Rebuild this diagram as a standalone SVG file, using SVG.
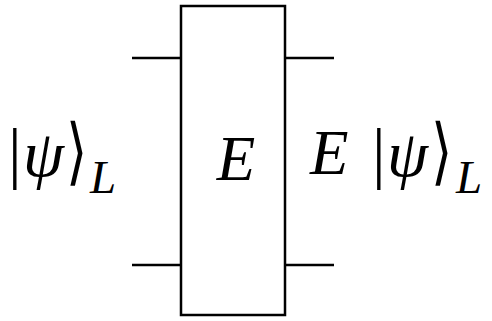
<svg xmlns="http://www.w3.org/2000/svg" width="492" height="321" viewBox="0 0 492 321">
<style>
.w{stroke:#000;stroke-width:2.5;fill:none}
</style>
<g id="wires">
<line class="w" x1="132" y1="58" x2="181" y2="58"/>
<line class="w" x1="132" y1="265" x2="181" y2="265"/>
<line class="w" x1="285" y1="58" x2="334" y2="58"/>
<line class="w" x1="285" y1="265" x2="334" y2="265"/>
</g>
<g id="gateE">
<rect class="w" x="181" y="6" width="104" height="309"/>
<text x="236" y="180" text-anchor="middle" font-family="Liberation Serif, serif" font-style="italic" font-size="63">E</text>
</g>
<g id="input" font-family="Liberation Serif, serif">
<text x="8" y="176" font-size="68">|</text>
<text x="23" y="176" font-size="66" font-style="italic">ψ</text>
<text transform="translate(66,176) scale(0.75,1)" font-family="DejaVu Serif, serif" font-size="73">⟩</text>
<text x="90" y="193" font-size="47" font-style="italic">L</text>
</g>
<g id="output" font-family="Liberation Serif, serif">
<text x="310" y="174" font-size="63" font-style="italic">E</text>
<text x="372" y="176" font-size="68">|</text>
<text x="387" y="176" font-size="66" font-style="italic">ψ</text>
<text transform="translate(431,176) scale(0.75,1)" font-family="DejaVu Serif, serif" font-size="73">⟩</text>
<text x="456" y="193" font-size="47" font-style="italic">L</text>
</g>
</svg>
